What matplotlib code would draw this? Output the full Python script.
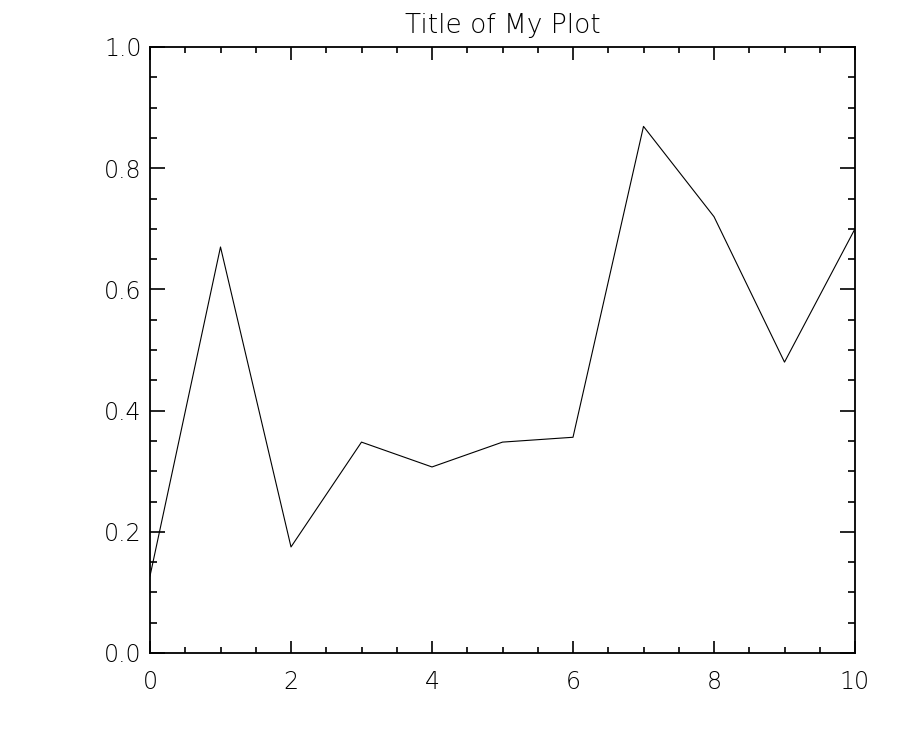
import matplotlib
matplotlib.use("Agg")
import matplotlib.pyplot as plt
from matplotlib.ticker import MultipleLocator

x_values = [0, 1, 2, 3, 4, 5, 6, 7, 8, 9, 10]
y_values = [0.127, 0.670, 0.175, 0.348, 0.307, 0.348, 0.356, 0.869, 0.720, 0.480, 0.700]
title_text = "Title of My Plot"

plt.rcParams['font.family'] = ['DejaVu Sans']

fig = plt.figure(figsize=(9, 7.5), dpi=100)
ax = fig.add_axes([150/900, 1-653/750, 705/900, 606/750])
ax.plot(x_values, y_values, color='black', linewidth=0.8)
ax.set_xlim(0, 10)
ax.set_ylim(0, 1.0)
ax.xaxis.set_major_locator(MultipleLocator(2))
ax.xaxis.set_minor_locator(MultipleLocator(0.5))
ax.yaxis.set_major_locator(MultipleLocator(0.2))
ax.yaxis.set_minor_locator(MultipleLocator(0.05))
ax.yaxis.set_major_formatter(matplotlib.ticker.FormatStrFormatter('%.1f'))
ax.tick_params(which='both', direction='in', top=True, right=True, width=1.2, labelsize=17, colors='black')
ax.tick_params(axis='x', which='major', length=9, pad=12)
ax.tick_params(axis='x', which='minor', length=4.5)
ax.tick_params(axis='y', which='major', length=11, pad=6)
ax.tick_params(axis='y', which='minor', length=5)
for s in ax.spines.values():
    s.set_linewidth(1.3)
for lab in ax.get_xticklabels() + ax.get_yticklabels():
    lab.set_fontweight('light')
ax.set_title(title_text, fontsize=19, pad=10, fontweight='light')
fig.savefig("out.png", dpi=100, facecolor='white')
